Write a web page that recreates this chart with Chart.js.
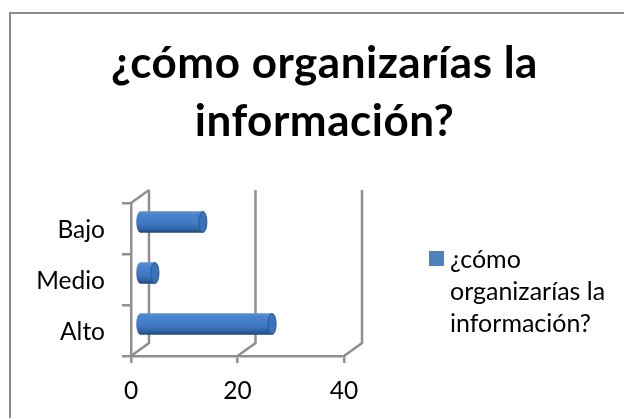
<!DOCTYPE html>
<html>
<head>
<meta charset="utf-8">
<script src="https://cdn.jsdelivr.net/npm/chart.js@4"></script>
<style>
  html, body { margin: 0; padding: 0; background: #fff; overflow: hidden; }
  #wrap { position: relative; width: 624px; height: 418px; }
  #frame { position: absolute; left: 9px; top: 12px; right: 0; bottom: 0; border-left: 2px solid #8c8c8c; border-top: 2px solid #8c8c8c; }
  canvas { position: absolute; left: 0; top: 0; }
  #legend { position: absolute; left: 450px; top: 242px; font: 25px Lato, sans-serif; line-height: 32px; color: #000; white-space: nowrap; }
  #swatch { position: absolute; left: 429px; top: 251px; width: 15px; height: 15px; background: #4f81bd; }
</style>
</head>
<body>
<div id="wrap">
  <div id="frame"></div>
  <canvas id="chart" width="624" height="418"></canvas>
  <div id="swatch"></div>
  <div id="legend"></div>
</div>
<script>
const categories = ['Alto', 'Medio', 'Bajo'];
const values = [25, 3, 12];
const xTicks = [0, 20, 40];
const titleLines = ['¿cómo organizarías la', 'información?'];
const legendLines = ['¿cómo', 'organizarías la', 'información?'];

const axisColor = '#8f8f8f';
const depthX = 18, depthY = -13;
const barSize = 21;

document.getElementById('legend').innerHTML = legendLines.join('<br>');

// back wall, floor and side wall of the fake 3D box
const wallsPlugin = {
  id: 'walls',
  beforeDatasetsDraw(chart) {
    const { ctx, chartArea: a, scales: { x } } = chart;
    ctx.save();
    ctx.strokeStyle = axisColor;
    ctx.lineWidth = 2.5;
    xTicks.forEach(t => {
      const px = x.getPixelForValue(t);
      ctx.beginPath();
      ctx.moveTo(px, a.bottom);
      ctx.lineTo(px + depthX, a.bottom + depthY);
      ctx.lineTo(px + depthX, a.top + depthY);
      ctx.stroke();
    });
    const left = x.getPixelForValue(0);
    ctx.beginPath();
    ctx.moveTo(left, a.top);
    ctx.lineTo(left + depthX, a.top + depthY);
    ctx.stroke();
    ctx.restore();
  }
};

// bars sit halfway into the box, with an end cap to look like a cylinder
const cylinderPlugin = {
  id: 'cylinder',
  beforeDatasetDraw(chart) {
    chart.ctx.save();
    chart.ctx.translate(depthX / 2 - 1, depthY / 2);
  },
  afterDatasetDraw(chart, args) {
    const ctx = chart.ctx;
    args.meta.data.forEach(bar => {
      const r = bar.height / 2;
      ctx.beginPath();
      ctx.ellipse(bar.x, bar.y, 4, r, 0, 0, Math.PI * 2);
      ctx.fillStyle = '#3c72b8';
      ctx.fill();
      ctx.strokeStyle = '#2a5a9a';
      ctx.lineWidth = 1;
      ctx.stroke();
      ctx.beginPath();
      ctx.ellipse(bar.base, bar.y, 4, r, 0, Math.PI / 2, Math.PI * 1.5);
      ctx.fillStyle = bar.options.backgroundColor;
      ctx.fill();
    });
    ctx.restore();
  }
};

// title is centred over the whole frame, not the plot
const titlePlugin = {
  id: 'titleBox',
  afterLayout(chart) {
    const block = chart.titleBlock;
    block.left = 0;
    block.right = 649;
    if (!block._spaced) {
      const draw = block.draw;
      block.draw = function () {
        chart.ctx.letterSpacing = '0.5px';
        draw.call(block);
        chart.ctx.letterSpacing = '0px';
      };
      block._spaced = true;
    }
  }
};

function barFill(context) {
  const { chart, dataIndex } = context;
  const yScale = chart.scales.y;
  if (dataIndex === undefined || !yScale) return '#4f81bd';
  const cy = yScale.getPixelForValue(dataIndex);
  if (!Number.isFinite(cy)) return '#4f81bd';
  const g = chart.ctx.createLinearGradient(0, cy - barSize / 2, 0, cy + barSize / 2);
  g.addColorStop(0, '#5d8fcc');
  g.addColorStop(0.15, '#4a84cf');
  g.addColorStop(0.6, '#3f78c2');
  g.addColorStop(0.88, '#2c5e9f');
  g.addColorStop(1, '#1f4679');
  return g;
}

new Chart(document.getElementById('chart'), {
  type: 'bar',
  data: {
    labels: categories,
    datasets: [{
      label: legendLines.join(' '),
      data: values,
      backgroundColor: barFill,
      barThickness: barSize
    }]
  },
  options: {
    indexAxis: 'y',
    responsive: false,
    animation: false,
    layout: { padding: { left: 0, right: 280, top: 0, bottom: 0 } },
    plugins: {
      legend: { display: false },
      tooltip: { enabled: false },
      title: {
        display: true,
        text: titleLines,
        color: '#000',
        font: { family: 'Lato, sans-serif', size: 44, weight: 'bold', lineHeight: 1.318 },
        padding: { top: 35, bottom: 52 }
      }
    },
    scales: {
      x: {
        min: 0,
        max: 40,
        afterBuildTicks(scale) { scale.ticks = xTicks.map(v => ({ value: v })); },
        afterFit(scale) { scale.height = 62; },
        grid: { drawOnChartArea: false, color: axisColor, lineWidth: 2.5, tickLength: 7 },
        border: { color: axisColor, width: 2.5 },
        ticks: { color: '#000', font: { family: 'Lato, sans-serif', size: 24.5 }, padding: 13, maxRotation: 0 }
      },
      y: {
        reverse: true,
        afterFit(scale) { scale.width = 131; },
        grid: { drawOnChartArea: false, color: axisColor, lineWidth: 2.5, tickLength: 9 },
        border: { color: axisColor, width: 2.5 },
        ticks: { color: '#000', font: { family: 'Lato, sans-serif', size: 24.5 }, padding: 17, labelOffset: 2 }
      }
    }
  },
  plugins: [wallsPlugin, cylinderPlugin, titlePlugin]
});
</script>
</body>
</html>
